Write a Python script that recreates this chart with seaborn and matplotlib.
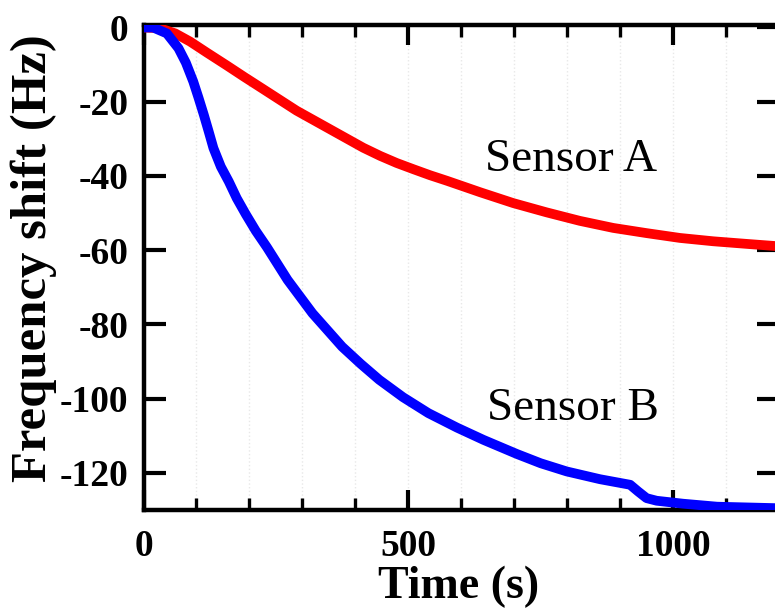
import matplotlib
matplotlib.use("Agg")
import matplotlib.pyplot as plt
import pandas as pd
import seaborn as sns
from matplotlib.ticker import MultipleLocator

# Frequency response of the two sensors
time_a = [0, 31, 60, 88, 120, 157, 190, 226, 289, 352, 415, 447, 478, 510,
          541, 573, 636, 698, 761, 824, 887, 950, 1013, 1076, 1139, 1195]
shift_a = [0, -0.2, -1.6, -3.8, -6.8, -10.2, -13.3, -16.6, -22.4, -27.4,
           -32.4, -34.6, -36.5, -38.2, -39.8, -41.3, -44.4, -47.3, -49.8,
           -52.1, -54.0, -55.4, -56.7, -57.6, -58.3, -58.9]

time_b = [0, 18, 44, 66, 80, 94, 104, 114, 123, 132, 146, 161, 176, 193,
          212, 233, 272, 319, 375, 410, 445, 490, 538, 592, 642, 705, 750,
          799, 862, 919, 934, 950, 969, 1019, 1083, 1195]
shift_b = [0, 0, -1.6, -5.6, -9.5, -14.6, -19.0, -23.6, -28.0, -32.5, -37.5,
           -41.5, -46.0, -50.3, -54.8, -59.2, -68.0, -77.0, -86.0, -90.6,
           -94.9, -99.6, -103.9, -107.8, -111.1, -114.9, -117.4, -119.6,
           -121.7, -123.2, -125.0, -126.8, -127.5, -128.3, -129.1, -129.5]

sensor_names = ["Sensor A", "Sensor B"]
sensor_colors = ["#ff0000", "#0000ff"]
x_ticks = [0, 500, 1000]
y_ticks = [0, -20, -40, -60, -80, -100, -120]

sns.set_theme(style="ticks")
plt.rcParams["font.family"] = ["Liberation Serif", "DejaVu Serif"]
plt.rcParams["font.weight"] = "bold"
plt.rcParams["axes.unicode_minus"] = False
for key in ["text.color", "axes.labelcolor", "xtick.color", "ytick.color",
            "xtick.labelcolor", "ytick.labelcolor", "axes.edgecolor"]:
    plt.rcParams[key] = "black"

df = pd.concat([
    pd.DataFrame({"time": time_a, "shift": shift_a, "sensor": sensor_names[0]}),
    pd.DataFrame({"time": time_b, "shift": shift_b, "sensor": sensor_names[1]}),
], ignore_index=True)

fig = plt.figure(figsize=(7.75, 6.13), dpi=100)
ax = fig.add_axes([0.1852, 0.168, 0.8199, 0.792])

sns.lineplot(data=df, x="time", y="shift", hue="sensor",
             palette=dict(zip(sensor_names, sensor_colors)),
             linewidth=7, legend=False, sort=False, estimator=None, ax=ax,
             zorder=3)
for line in ax.lines:
    line.set_solid_capstyle("round")
    line.set_solid_joinstyle("round")

ax.set_xlim(0, 1200)
ax.set_ylim(-130, 0.8)
ax.set_xticks(x_ticks)
ax.set_yticks(y_ticks)
ax.xaxis.set_minor_locator(MultipleLocator(100))

ax.grid(True, axis="x", which="both", color="#e8e8e8", linestyle=":",
        linewidth=1.0)
ax.set_axisbelow(True)

for sp in ax.spines.values():
    sp.set_linewidth(3.2)
    sp.set_color("black")

ax.tick_params(axis="both", which="major", direction="in", top=True,
               right=True, width=3, labelsize=27, color="black",
               labelcolor="black")
ax.tick_params(axis="y", which="major", length=15.5, pad=11)
ax.tick_params(axis="x", which="major", length=14.5, pad=14)
ax.tick_params(axis="x", which="minor", direction="in", top=True,
               length=8.5, width=2.4, color="black")

ax.set_xlabel("Time (s)", fontsize=33, fontweight="bold", va="baseline",
              color="black")
ax.xaxis.set_label_coords(0.496, -0.181)
ax.set_ylabel("Frequency shift (Hz)", fontsize=36.5, fontweight="bold",
              va="baseline", color="black")
ax.yaxis.set_label_coords(-0.1535, 0.519)

ax.text(645, -38.6, sensor_names[0], fontsize=34, fontweight="normal",
        ha="left", va="baseline", color="black")
ax.text(648, -105.7, sensor_names[1], fontsize=34, fontweight="normal",
        ha="left", va="baseline", color="black")

fig.savefig("out.png", dpi=100)
